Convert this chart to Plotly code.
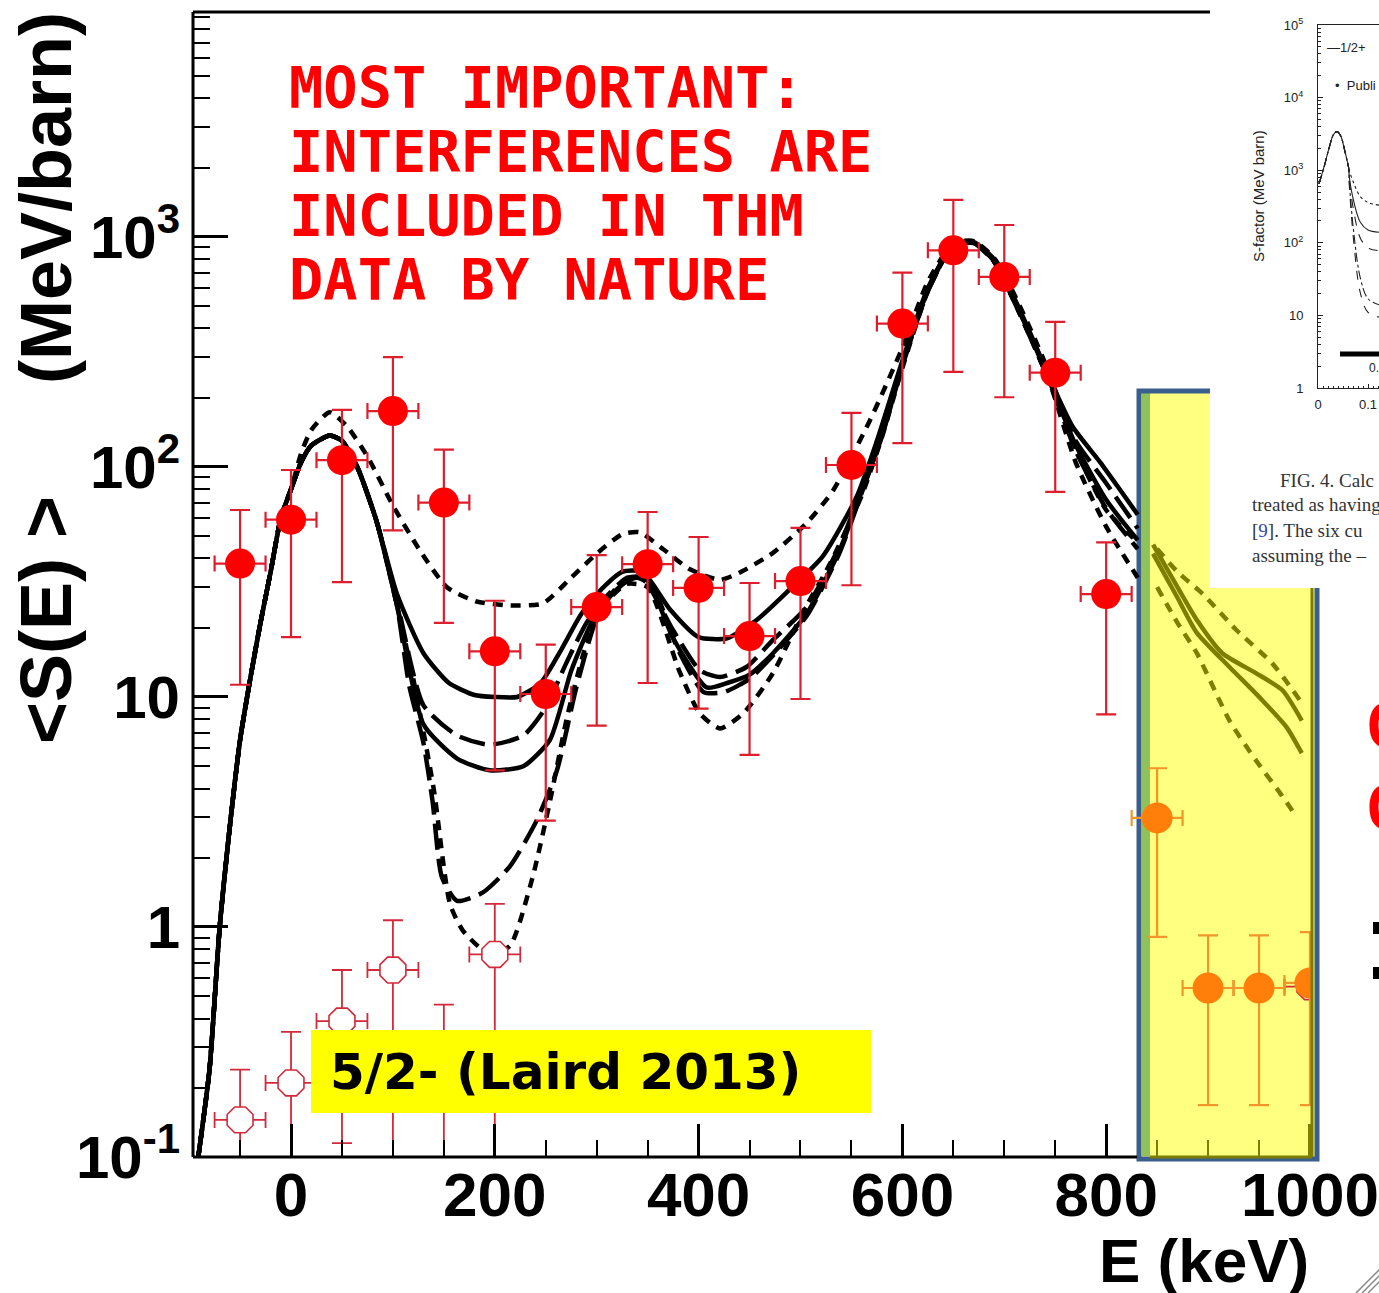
import plotly.graph_objects as go

W, H = 1379, 1293


def X(px):
    return px / W


def Y(py):
    return 1 - py / H


# ---------------- data (E in keV, <S(E)> in MeV b) ----------------
# rising edge shared by all six R-matrix curves
E_rise = [-91, -80, -70, -60, -50, -40, -30, -20, -10, 0]
S_rise = [0.1, 0.24, 1.0, 2.75, 6.5, 12, 21, 35, 60, 80]

E_s1 = [10, 20, 38, 50, 65, 84, 104, 130, 155, 180, 200, 222, 245, 265, 285, 305, 325, 345, 372, 400,
        428, 457, 489, 522, 555, 575, 600, 625, 650, 670, 690, 710, 728, 745, 767, 794, 815, 831]
S_s1 = [105, 124, 137, 130, 100, 58, 28, 15.5, 11.5, 10.2, 10, 10, 11.5, 16, 23, 29.5, 35, 35, 24, 18.2,
        18, 21.6, 29.2, 41, 74, 130, 290, 600, 920, 950, 800, 540, 360, 240, 150, 105, 78, 62]

E_l1 = [10, 20, 38, 50, 65, 84, 104, 130, 163, 195, 228, 250, 270, 290, 310, 330, 345, 375, 401, 421,
        447, 473, 506, 538, 560, 580, 600, 625, 650, 670, 690, 710, 730, 745, 770, 800, 831]
S_l1 = [105, 124, 137, 130, 100, 58, 26, 9.2, 6.8, 6.2, 6.8, 9, 14, 21, 27.5, 33, 33, 19.5, 13.1, 12.2,
        13.5, 17.7, 24.6, 45, 80, 140, 280, 590, 930, 945, 790, 530, 340, 235, 130, 85, 54]

E_s2 = [10, 20, 38, 50, 65, 84, 104, 130, 163, 195, 228, 254, 275, 295, 315, 335, 350, 375, 408, 428,
        450, 473, 506, 538, 560, 580, 600, 625, 650, 670, 690, 710, 730, 745, 770, 800, 831]
S_s2 = [105, 124, 137, 130, 100, 58, 25, 7.6, 5.4, 4.8, 5.0, 6.5, 13, 21, 28, 33, 32, 18, 11, 11.5,
        12.5, 15.5, 23, 43, 78, 138, 280, 585, 925, 945, 785, 525, 335, 232, 125, 72, 48]

E_l2 = [10, 20, 38, 50, 65, 84, 104, 116, 130, 139, 148, 163, 188, 215, 241, 261, 280, 300, 320, 340,
        355, 380, 405, 425, 450, 475, 506, 538, 560, 580, 600, 625, 650, 670, 690, 710, 730, 745, 770,
        800, 831]
S_l2 = [105, 124, 137, 130, 100, 58, 25, 11.2, 6.3, 3.5, 1.65, 1.3, 1.41, 1.84, 2.9, 4.8, 11, 22, 30, 33,
        30, 16, 10.5, 10.5, 12, 15.5, 22.5, 42, 77, 136, 275, 580, 920, 940, 780, 520, 330, 230, 118,
        66, 44]

E_d2 = [10, 20, 38, 50, 65, 84, 104, 120, 140, 156, 169, 195, 215, 237, 254, 271, 290, 310, 330, 350,
        381, 401, 421, 444, 473, 502, 529, 560, 580, 600, 625, 650, 670, 690, 710, 730, 745, 770, 800, 831]
S_d2 = [105, 124, 137, 130, 100, 58, 25, 12, 4, 1.26, 0.96, 0.76, 0.83, 1.64, 3.5, 8.2, 17, 26, 31, 30,
        13, 8.5, 7.3, 8.5, 12.7, 23.2, 38, 75, 135, 270, 580, 920, 940, 780, 520, 330, 230, 105, 55, 33]

E_d1 = [10, 20, 38, 55, 75, 100, 127, 153, 182, 215, 247, 275, 300, 325, 342, 365, 391, 421, 440, 473,
        506, 532, 568, 600, 625, 650, 670, 690, 710, 730, 745, 770, 800, 831]
S_d1 = [115, 145, 173, 150, 111, 68, 43, 30, 26, 25, 25.5, 33, 42, 51, 52, 44, 36, 32.3, 34.7, 42.3,
        57, 79, 159, 330, 640, 940, 960, 810, 560, 360, 250, 120, 65, 47]

# continuation of the curves inside the highlighted (yellow) region
E_A = [846, 870, 889, 914, 947, 973, 992]
S_A = [46, 30, 21.6, 15.5, 12.7, 10.7, 7.9]
E_B = [846, 870, 889, 921, 953, 977, 992]
S_B = [42, 27, 19, 13.5, 9.7, 7.4, 5.7]
E_C = [850, 870, 895, 928, 963, 990]
S_C = [44, 35, 28, 19.5, 14, 9.7]
E_D = [850, 870, 889, 921, 947, 973, 987]
S_D = [30, 21, 15.5, 7.9, 5.3, 3.7, 3.0]

# THM data (filled red)
E_pts = [-50, 0, 50, 100, 150, 200, 250, 300, 350, 400, 450, 500, 550, 600, 650, 700, 750, 800]
S_pts = [38, 59, 107, 175, 70, 15.8, 10.3, 24.6, 37.8, 29.8, 18.4, 31.9, 102, 420, 875, 670, 257, 28]
S_pts_hi = [65, 97, 177, 300, 119, 26.2, 16.9, 41.4, 63.7, 49.6, 31.3, 54.3, 172, 700, 1448, 1127, 427, 47]
S_pts_lo = [11.3, 18.2, 31.6, 53, 21, 4.8, 2.9, 7.5, 11.5, 8.9, 5.6, 9.8, 30.6, 127, 259, 201, 78, 8.4]
dE_pts = [25] * len(E_pts)

# open symbols
E_open = [-50, 0, 50, 100, 150, 200, 1000]
S_open = [0.145, 0.21, 0.39, 0.65, 0.25, 0.76, 0.55]
S_open_hi = [0.24, 0.35, 0.65, 1.07, 0.46, 1.26, 0.95]
S_open_lo = [0.08, 0.08, 0.115, 0.08, 0.08, 0.08, 0.168]
dE_open = [25] * len(E_open)

# points in highlighted region (orange)
E_or = [850, 900, 950, 1000]
S_or = [2.98, 0.543, 0.543, 0.571]
S_or_hi = [4.9, 0.92, 0.92, 0.95]
S_or_lo = [0.905, 0.168, 0.168, 0.168]
dE_or = [25] * len(E_or)

x_tickvals = [0, 200, 400, 600, 800]
x_ticktext = ['0', '200', '400', '600', '800']
x_minor = [-50, 50, 100, 150, 250, 300, 350, 450, 500, 550, 650, 700, 750]
x_box_tickvals = [1000]
x_box_ticktext = ['1000']
x_box_minor = [850, 900, 950]
y_tickvals = [0.1, 1, 10, 100, 1000]
y_ticktext = ['10<sup>-1</sup>', '1', '10', '10<sup>2</sup>', '10<sup>3</sup>']
y_minor = [m * 10 ** k for k in range(-1, 4) for m in range(2, 10)]

# inset (published R-matrix calculation, x in MeV)
Ei_common = [0.002, 0.012, 0.022, 0.031, 0.038, 0.045, 0.054, 0.062]
Si_common = [650, 1100, 2000, 3100, 3400, 3000, 1800, 1000]
Ei_b = [0.062, 0.072, 0.085, 0.1, 0.122]
Si_b1 = [1000, 650, 430, 360, 330]
Si_b2 = [900, 360, 190, 150, 140]
Si_b3 = [850, 260, 115, 85, 78]
Si_b4 = [800, 130, 32, 17, 14]
Si_b5 = [760, 95, 20, 11, 9.5]
yi_tickvals = [1, 10, 100, 1000, 1e4, 1e5]
yi_ticktext = ['1', '10', '10<sup>2</sup>', '10<sup>3</sup>', '10<sup>4</sup>', '10<sup>5</sup>']

# ---------------- figure ----------------
fig = go.Figure()

SOLID, LDASH, SDASH = 'solid', '26px,9px', '10px,8px'
curves = [(E_d1, S_d1, SDASH), (E_d2, S_d2, SDASH), (E_l2, S_l2, LDASH),
          (E_l1, S_l1, LDASH), (E_s2, S_s2, SOLID), (E_s1, S_s1, SOLID)]
for E, S, dash in curves:
    fig.add_trace(go.Scatter(x=E_rise + E, y=S_rise + S, mode='lines', hoverinfo='skip',
                             line=dict(color='black', width=4.5, dash=dash, shape='spline', smoothing=0.6)))

OLIVE = '#7d7d00'
for E, S, dash in [(E_A, S_A, SOLID), (E_B, S_B, SOLID), (E_C, S_C, SDASH), (E_D, S_D, SDASH)]:
    fig.add_trace(go.Scatter(x=E, y=S, mode='lines', hoverinfo='skip',
                             line=dict(color=OLIVE, width=4.5, dash=dash, shape='spline', smoothing=0.6)))


def errs(v, hi, lo):
    return [h - a for h, a in zip(hi, v)], [a - l for a, l in zip(v, lo)]


p, m = errs(S_open, S_open_hi, S_open_lo)
fig.add_trace(go.Scatter(
    x=E_open, y=S_open, mode='markers', hoverinfo='skip',
    marker=dict(symbol='octagon', size=28, color='white', line=dict(color='#d22a3a', width=1.6)),
    error_y=dict(type='data', array=p, arrayminus=m, color='#d22a3a', thickness=1.8, width=10),
    error_x=dict(type='data', array=dE_open, color='#d22a3a', thickness=1.8, width=8)))

p, m = errs(S_pts, S_pts_hi, S_pts_lo)
fig.add_trace(go.Scatter(
    x=E_pts, y=S_pts, mode='markers', hoverinfo='skip',
    marker=dict(symbol='circle', size=30, color='#ff0000'),
    error_y=dict(type='data', array=p, arrayminus=m, color='#dc1e2d', thickness=2.2, width=10),
    error_x=dict(type='data', array=dE_pts, color='#dc1e2d', thickness=2.2, width=8)))

p, m = errs(S_or, S_or_hi, S_or_lo)
fig.add_trace(go.Scatter(
    x=E_or, y=S_or, mode='markers', hoverinfo='skip',
    marker=dict(symbol='circle', size=31, color='#ff7f0a'),
    error_y=dict(type='data', array=p, arrayminus=m, color='#f0962a', thickness=2.2, width=10),
    error_x=dict(type='data', array=dE_or, color='#f0962a', thickness=2.2, width=8)))

# empty trace so the olive overlay axis (ticks inside the highlighted box) is drawn
fig.add_trace(go.Scatter(x=[], y=[], xaxis='x3', yaxis='y', hoverinfo='skip'))

# inset curves
for S, dash in [(Si_b1, 'dot'), (Si_b2, 'solid'), (Si_b3, 'dash'), (Si_b4, 'dashdot'), (Si_b5, 'dash')]:
    fig.add_trace(go.Scatter(x=Ei_common + Ei_b, y=Si_common + S, mode='lines', xaxis='x2', yaxis='y2',
                             hoverinfo='skip',
                             line=dict(color='#222222', width=1.1, dash=dash, shape='spline')))

BOLD = dict(family='Liberation Sans, Arial, sans-serif', color='black', weight='bold')
XRANGE = [-96.2, 1002]
XDOM = [X(193), X(1312)]

fig.update_layout(
    width=W, height=H, margin=dict(l=0, r=0, t=0, b=0, autoexpand=False),
    paper_bgcolor='white', plot_bgcolor='rgba(0,0,0,0)', showlegend=False,
    xaxis=dict(domain=XDOM, range=XRANGE, showline=False, zeroline=False,
               automargin=False,
               showgrid=False, ticks='inside', ticklen=33, tickwidth=2.5, tickcolor='black',
               tickvals=x_tickvals, ticktext=x_ticktext, ticklabelstandoff=-4,
               tickfont=dict(size=62, **BOLD),
               minor=dict(ticks='inside', ticklen=17, tickwidth=2, tickcolor='black', tickvals=x_minor,
                          showgrid=False)),
    xaxis3=dict(overlaying='x', anchor='y', range=XRANGE, showline=False, zeroline=False,
                automargin=False, showgrid=False, ticks='inside', ticklen=33, tickwidth=2.5,
                tickcolor=OLIVE, tickvals=x_box_tickvals, ticktext=x_box_ticktext,
                ticklabelstandoff=-4, tickfont=dict(size=62, **BOLD),
                minor=dict(ticks='inside', ticklen=17, tickwidth=2, tickcolor=OLIVE,
                           tickvals=x_box_minor, showgrid=False)),
    yaxis=dict(domain=[Y(1157), Y(12)], type='log', range=[-1, 3.978], showline=False, zeroline=False,
               automargin=False,
               showgrid=False, ticks='inside', ticklen=35, tickwidth=2.5, tickcolor='black',
               tickvals=y_tickvals, ticktext=y_ticktext, ticklabelstandoff=12,
               tickfont=dict(size=60, **BOLD),
               minor=dict(ticks='inside', ticklen=17, tickwidth=2, tickcolor='black', tickvals=y_minor,
                          showgrid=False)),
    xaxis2=dict(domain=[X(1318), 1.0], range=[0, 0.122], anchor='y2', showline=True, mirror=True,
                automargin=False,
                linecolor='#222', linewidth=1, zeroline=False, showgrid=False, ticks='inside', ticklen=4,
                tickcolor='#222', tickvals=[0, 0.1], ticktext=['0', '0.1'], ticklabelstandoff=4,
                tickfont=dict(family='Liberation Sans, Arial', size=13, color='#222'),
                minor=dict(ticks='inside', ticklen=2, dtick=0.01, tickcolor='#222')),
    yaxis2=dict(domain=[Y(388), Y(25)], type='log', range=[0, 5], anchor='x2', showline=True,
                automargin=False,
                linecolor='#222', linewidth=1, zeroline=False, showgrid=False, ticks='inside', ticklen=5,
                tickcolor='#222', tickvals=yi_tickvals, ticktext=yi_ticktext, ticklabelstandoff=11,
                tickfont=dict(family='Liberation Sans, Arial', size=13, color='#222'),
                minor=dict(ticks='inside', ticklen=3, tickcolor='#222',
                           tickvals=[m * 10 ** k for k in range(0, 5) for m in range(2, 10)])),
)


def rect(x0, y0, x1, y1, **kw):
    d = dict(type='rect', xref='paper', yref='paper', x0=X(x0), x1=X(x1), y0=Y(y1), y1=Y(y0))
    d.update(kw)
    return d


def line(x0, y0, x1, y1, color, width, layer='above'):
    return dict(type='line', xref='paper', yref='paper', x0=X(x0), x1=X(x1), y0=Y(y0), y1=Y(y1),
                line=dict(color=color, width=width), layer=layer)


shapes = [
    rect(1140, 390, 1316, 1158, fillcolor='#ffff80', line=dict(width=0), layer='below'),
    rect(1142, 393, 1150, 1156, fillcolor='#8fc35a', line=dict(width=0), layer='below'),
    rect(1139, 391, 1317, 1159, line=dict(color='#3a5f8e', width=5), layer='below'),
    rect(1210, -2, 1381, 588, fillcolor='white', line=dict(width=0), layer='below'),
    line(193, 12, 193, 1157, 'black', 3),
    line(193, 12, 1210, 12, 'black', 3),
    line(193, 1157, 1137, 1157, 'black', 3),
    line(1150, 1157, 1312, 1157, OLIVE, 3),
    line(1312, 588, 1312, 1157, OLIVE, 3),
    line(1340, 354, 1381, 354, 'black', 5),
    rect(311, 1030, 871, 1113, fillcolor='#ffff00', line=dict(width=0), layer='above'),
    rect(1373, 922, 1381, 934, fillcolor='black', line=dict(width=0), layer='above'),
    rect(1373, 967, 1381, 979, fillcolor='black', line=dict(width=0), layer='above'),
    line(1356, 1293, 1381, 1268, '#888888', 1.5),
    line(1362, 1293, 1381, 1274, '#888888', 1.5),
    line(1368, 1293, 1381, 1280, '#888888', 1.5),
]
fig.update_layout(shapes=shapes)


def ann(text, px, py, xa='left', ya='middle', size=20, color='black', family='Liberation Sans',
        weight='normal', angle=0):
    return dict(text=text, x=X(px), y=Y(py), xref='paper', yref='paper', xanchor=xa, yanchor=ya,
                showarrow=False, textangle=angle,
                font=dict(size=size, color=color, family=family, weight=weight))


RED_FONT = 'DejaVu Sans Mono'
SERIF = 'Liberation Serif'
annotations = [
    ann('MOST IMPORTANT:', 287, 88, size=57, color='#ff0000', family=RED_FONT, weight='bold'),
    ann('INTERFERENCES ARE', 287, 152, size=57, color='#ff0000', family=RED_FONT, weight='bold'),
    ann('INCLUDED IN THM', 287, 216, size=57, color='#ff0000', family=RED_FONT, weight='bold'),
    ann('DATA BY NATURE', 287, 280, size=57, color='#ff0000', family=RED_FONT, weight='bold'),
    ann('5/2- (Laird 2013)', 328, 1072, size=50, family='DejaVu Sans', weight='bold'),
    ann('(MeV/barn)', 46, 198, xa='center', size=72, weight='bold', angle=-90),
    ann('&lt;S(E) &gt;', 46, 620, xa='center', size=72, weight='bold', angle=-90),
    ann('E (keV)', 1311, 1260, xa='right', size=62, weight='bold'),
    # inset decorations
    ann('S-factor (MeV barn)', 1258, 196, xa='center', size=15, color='#222', angle=-90),
    ann('—1/2+', 1325, 47, size=13, color='#222'),
    ann('•  Publi', 1333, 85, size=13, color='#222'),
    ann('0.', 1367, 368, size=12, color='#222'),
    ann('FIG. 4. Calc', 1278, 480, size=19, color='#333', family=SERIF),
    ann('treated as having', 1250, 505, size=19, color='#333', family=SERIF),
    ann('[<span style="color:#3344bb">9</span>]. The six cu', 1250, 530, size=19, color='#333',
        family=SERIF),
    ann('assuming the –', 1250, 555, size=19, color='#333', family=SERIF),
    # cut-off glyphs at the right border
    ann('C', 1363, 726, size=60, color='#ff0000', family=RED_FONT, weight='bold'),
    ann('C', 1363, 808, size=60, color='#ff0000', family=RED_FONT, weight='bold'),
]
fig.update_layout(annotations=annotations)

fig.write_html('out.html', config={'displayModeBar': False},
               post_script="document.body.style.margin='0';document.body.style.overflow='hidden';")
